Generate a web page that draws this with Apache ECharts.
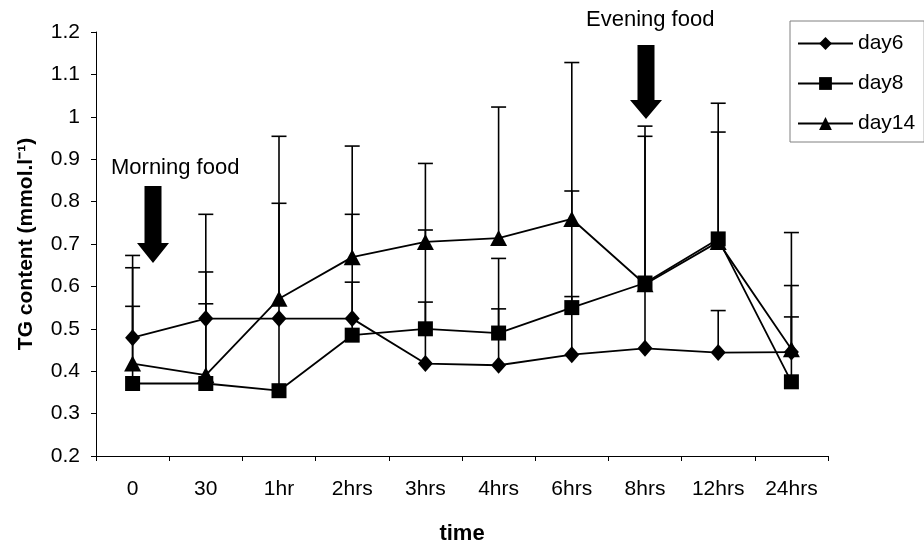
<!DOCTYPE html>
<html>
<head>
<meta charset="utf-8">
<script src="https://cdn.jsdelivr.net/npm/echarts@6/dist/echarts.min.js"></script>
<style>
  html, body { margin: 0; padding: 0; background: #fff; }
  #chart { width: 924px; height: 550px; }
</style>
</head>
<body>
<div id="chart"></div>
<script>
// Sampling times after feeding
const categories = ['0', '30', '1hr', '2hrs', '3hrs', '4hrs', '6hrs', '8hrs', '12hrs', '24hrs'];

// Mean TG content (mmol/l)
const day6  = [0.479, 0.524, 0.524, 0.524, 0.418, 0.414, 0.439, 0.454, 0.444, 0.445];
const day8  = [0.371, 0.371, 0.354, 0.485, 0.500, 0.490, 0.550, 0.608, 0.712, 0.375];
const day14 = [0.418, 0.391, 0.571, 0.669, 0.705, 0.714, 0.759, 0.605, 0.705, 0.452];

// Upper end of the error bar (mean + SD)
const day6Upper  = [0.553, 0.634, null, 0.610, 0.563, 0.547, 0.576, 0.978, 0.543, 0.528];
const day8Upper  = [0.644, 0.559, 0.796, 0.770, 0.733, 0.666, 0.825, 0.954, 1.032, 0.602];
const day14Upper = [0.673, 0.770, 0.954, 0.931, 0.890, 1.023, 1.128, null, 0.964, 0.727];

// Y axis ticks
const yMin = 0.2, yMax = 1.2, yStep = 0.1;

const FONT = 'Liberation Sans, Arial, sans-serif';
const FS = 21;

function errorData(means, uppers) {
  const out = [];
  means.forEach((m, i) => { if (uppers[i] != null) out.push([i, m, uppers[i]]); });
  return out;
}

function renderErrorBar(params, api) {
  const base = api.coord([api.value(0), api.value(1)]);
  const top = api.coord([api.value(0), api.value(2)]);
  const half = 7.5;
  const style = { stroke: '#000', lineWidth: 1.6 };
  return {
    type: 'group',
    children: [
      { type: 'line', shape: { x1: base[0], y1: base[1], x2: top[0], y2: top[1] }, style },
      { type: 'line', shape: { x1: top[0] - half, y1: top[1], x2: top[0] + half, y2: top[1] }, style }
    ]
  };
}

function lineSeries(name, data, symbol, size) {
  return {
    name, type: 'line', data,
    symbol, symbolSize: size,
    showAllSymbol: true,
    lineStyle: { color: '#000', width: 1.8 },
    itemStyle: { color: '#000' },
    emphasis: { disabled: true },
    animation: false,
    z: 3
  };
}

function errorSeries(data) {
  return {
    type: 'custom', renderItem: renderErrorBar, data,
    encode: { x: 0, y: [1, 2] },
    silent: true, animation: false, z: 2
  };
}

const chart = echarts.init(document.getElementById('chart'), null, { renderer: 'canvas' });

// Feeding arrow: shaft plus head, pointing down
function arrow(cx, top, headStart, tip) {
  return {
    type: 'polygon',
    shape: { points: [
      [cx - 8.5, top], [cx + 8.5, top], [cx + 8.5, headStart], [cx + 16, headStart],
      [cx, tip], [cx - 16, headStart], [cx - 8.5, headStart]
    ] },
    style: { fill: '#000' }
  };
}

chart.setOption({
  backgroundColor: '#fff',
  textStyle: { fontFamily: FONT, color: '#000' },
  grid: { left: 96, right: 96, top: 32, bottom: 92, containLabel: false },
  legend: {
    orient: 'vertical',
    left: 790, top: 21,
    padding: [12, 9, 8, 7],
    itemGap: 19,
    itemWidth: 55, itemHeight: 16,
    borderColor: '#808080', borderWidth: 1,
    backgroundColor: '#fff',
    textStyle: { fontFamily: FONT, fontSize: FS, color: '#000' },
    data: ['day6', 'day8', 'day14']
  },
  xAxis: {
    type: 'category',
    data: categories,
    boundaryGap: true,
    name: 'time',
    nameLocation: 'middle',
    nameGap: 67,
    nameTextStyle: { fontFamily: FONT, fontSize: 22, fontWeight: 'bold', color: '#000' },
    axisLine: { lineStyle: { color: '#000', width: 1 } },
    axisTick: { show: true, length: 5, lineStyle: { color: '#000' } },
    axisLabel: { fontFamily: FONT, fontSize: FS, color: '#000', margin: 23 },
    splitLine: { show: false }
  },
  yAxis: {
    type: 'value',
    min: yMin, max: yMax, interval: yStep,
    name: 'TG content (mmol.l\u207B\u00B9)',
    nameLocation: 'middle',
    nameRotate: 90,
    nameGap: 59,
    nameTextStyle: { fontFamily: FONT, fontSize: FS, fontWeight: 'bold', color: '#000' },
    axisLine: { show: true, lineStyle: { color: '#000', width: 1 } },
    axisTick: { show: true, length: 5, lineStyle: { color: '#000' } },
    axisLabel: {
      fontFamily: FONT, fontSize: FS, color: '#000', margin: 16,
      formatter: v => String(Math.round(v * 10) / 10)
    },
    splitLine: { show: false }
  },
  series: [
    errorSeries(errorData(day6, day6Upper)),
    errorSeries(errorData(day8, day8Upper)),
    errorSeries(errorData(day14, day14Upper)),
    lineSeries('day6', day6, 'diamond', [15, 17]),
    lineSeries('day8', day8, 'rect', [15, 15]),
    lineSeries('day14', day14, 'triangle', [17, 16])
  ],
  graphic: [
    { type: 'text', left: 111, top: 157, style: { text: 'Morning food', font: '22px ' + FONT, fill: '#000' } },
    arrow(153, 186, 243, 263),
    { type: 'text', left: 586, top: 9, style: { text: 'Evening food', font: '22px ' + FONT, fill: '#000' } },
    arrow(646, 45, 100, 119)
  ]
});
</script>
</body>
</html>
